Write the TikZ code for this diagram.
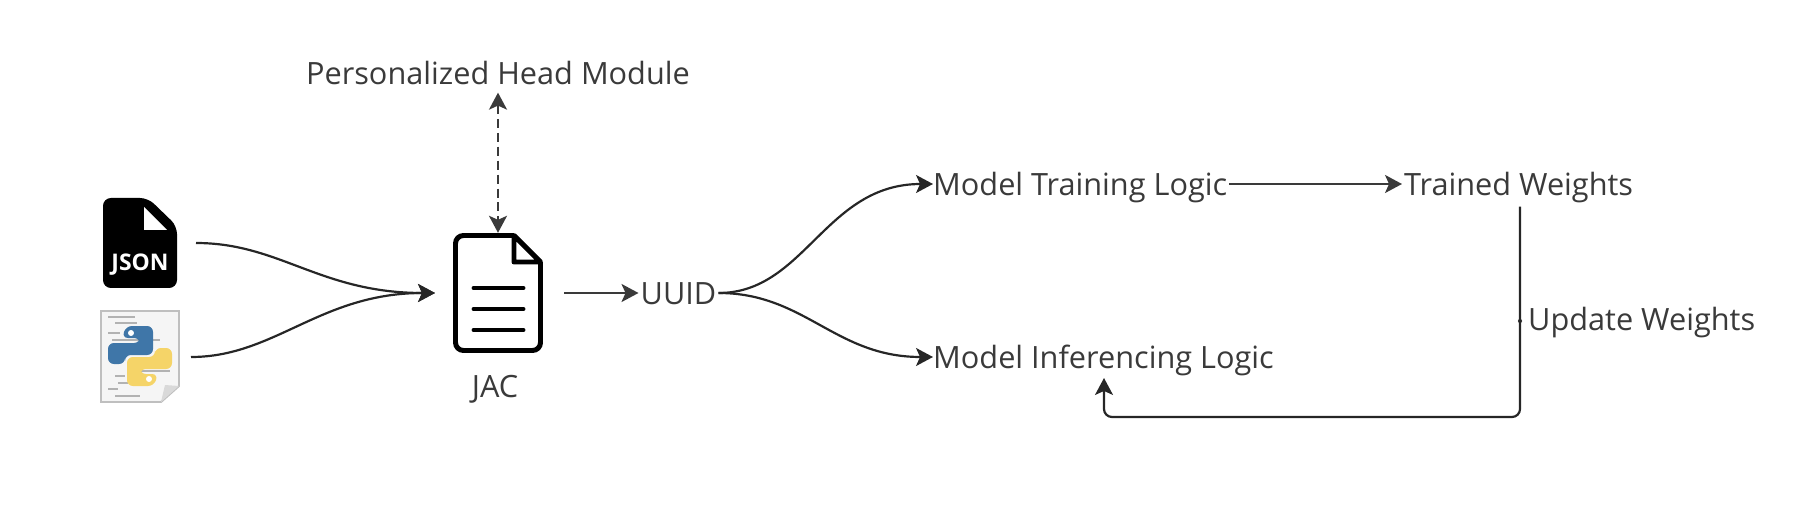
\documentclass[tikz,border=0pt]{standalone}
\usepackage{fontspec}
\setmainfont{Open Sans}
\usetikzlibrary{arrows.meta}
\definecolor{inkcol}{HTML}{3A3A3A}
\definecolor{pyblue}{HTML}{3F76A8}
\definecolor{pyyellow}{HTML}{F5D468}
\tikzset{lbl/.style={font=\fontsize{30.8}{36}\selectfont,text=inkcol,inner sep=2pt,text height=23pt,text depth=0pt},
conn/.style={draw=inkcol,line width=2.5pt,-{Stealth[length=17pt,width=18pt,inset=4pt]}},
curv/.style={draw=black!85,line width=2.2pt,-{Stealth[length=17pt,width=18pt,inset=4pt]}},
glyph/.style={draw=black,line width=5pt,line join=round},
codeline/.style={draw=black!30,line width=1.5pt}}
\newcommand{\snakeshape}{(126,326) -- (153,326) -- (153,355) -- (125,355) -- (125,364) -- (108,364) -- (108,343) -- (140,343) -- (140,338) -- (122,338) -- cycle}
\begin{document}
\begin{tikzpicture}[x=1bp,y=-1bp]
    \useasboundingbox (0,0) rectangle (1806,510);
    \fill[black,rounded corners=8pt] (103,198) -- (148,198) -- (177,226) -- (177,288) -- (103,288) -- cycle;
    \fill[white] (144,207) -- (144,230) -- (167,230) -- cycle;
    \node[font=\fontsize{23}{26}\selectfont\bfseries,text=white,inner sep=0pt] (json) at (140,265) {JSON};
    \draw[fill=black!4,draw=black!25,line width=2pt] (101,311) -- (179,311) -- (179,386) -- (161,402) -- (101,402) -- cycle;
    \fill[black!15] (179,386) -- (161,402) -- (165,385) -- cycle;
    \draw[codeline] (108,317) -- (135,317) (115,323) -- (137,323) (108,333) -- (120,333) (112,340) -- (160,340)
    (115,376) -- (125,376) (118,383) -- (128,383) (108,389) -- (118,389) (115,396) -- (140,396) (140,371) -- (170,371);
    \fill[pyblue,rounded corners=6pt] \snakeshape;
    \fill[pyyellow,rounded corners=6pt,rotate around={180:(140,356)}] \snakeshape;
    \fill[white] (131,333) circle (3pt) (149,379) circle (3pt);
    \draw[glyph,rounded corners=8pt] (514,235.5) -- (455.5,235.5) -- (455.5,350.5) -- (540.5,350.5) -- (540.5,262);
    \draw[glyph] (514,235.5) -- (540.5,262) -- (514,262) -- cycle;
    \draw[glyph,line cap=round] (474,288) -- (523,288) (474,309) -- (523,309) (474,330) -- (523,330);
    \node[inner sep=0pt,minimum width=88bp,minimum height=120bp] (jacdoc) at (498,293) {};
    \node[lbl] (jac) at (495,386) {JAC};
    \node[lbl] (head) at (498,73) {Personalized Head Module};
    \node[lbl] (uuid) at (678.5,293) {UUID};
    \node[lbl,anchor=west] (mtl) at (931,184) {Model Training Logic};
    \node[lbl,anchor=west] (mil) at (931,357) {Model Inferencing Logic};
    \node[lbl,anchor=west] (tw) at (1402,184) {Trained Weights};
    \node[lbl,anchor=west] (upw) at (1526,319) {Update Weights};
    \node[circle,fill=inkcol,inner sep=1.5pt] (wdot) at (1520,321) {};
    \coordinate (jsonout) at (196,243);
    \coordinate (pyout) at (191,357);
    \coordinate (jacin) at (435,293);
    \coordinate (wbend) at (1520,417);
    \coordinate (wend) at (1104,378);
    \draw[curv] (jsonout) .. controls (280,243) and (320,293) .. (jacin);
    \draw[curv] (pyout) .. controls (275,357) and (320,293) .. (jacin);
    \draw[conn,dash pattern=on 9pt off 5pt,{Stealth[length=17pt,width=18pt,inset=4pt]}-{Stealth[length=17pt,width=18pt,inset=4pt]}] (head.south) ++(0,6) -- (jacdoc.north);
    \draw[conn,shorten <=22bp] (jacdoc.east) -- (uuid.west);
    \draw[curv,shorten >=-2bp] (uuid.east) .. controls (805,293) and (825,184) .. (mtl.west);
    \draw[curv,shorten >=-2bp] (uuid.east) .. controls (805,293) and (835,357) .. (mil.west);
    \draw[conn] (mtl.east) -- (tw.west);
    \draw[curv,rounded corners=8pt] (wdot |- tw.south) ++(0,9) -- (wbend) -- (wend |- wbend) -- (wend);
\end{tikzpicture}
\end{document}
